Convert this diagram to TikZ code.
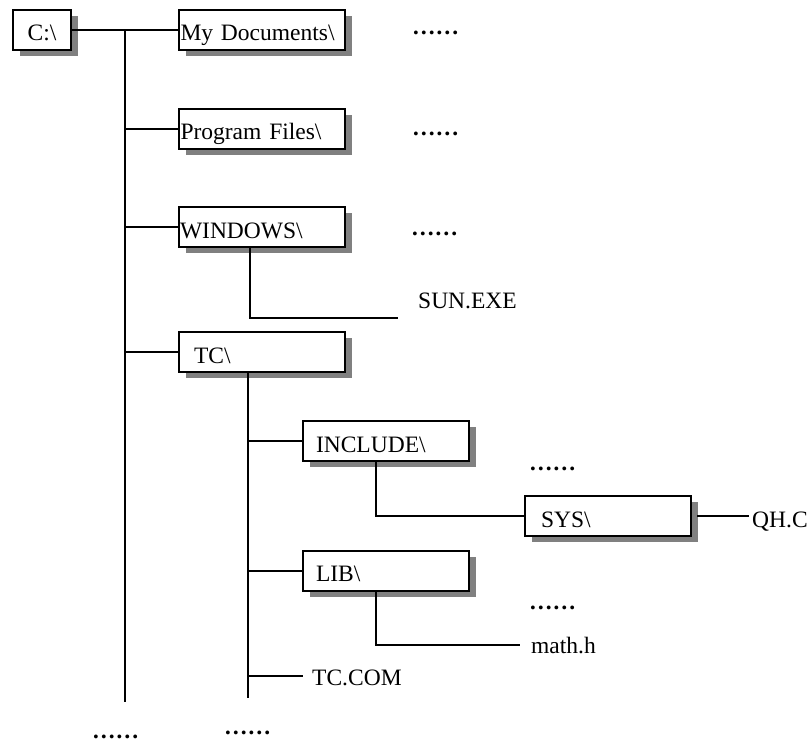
\documentclass[tikz,border=0pt]{standalone}
\usepackage{fontspec}
\setmainfont{Liberation Serif}
\usetikzlibrary{shadows}
\begin{document}
\begin{tikzpicture}[x=1pt,y=-1pt,
  every node/.style={font=\fontsize{23.5}{28}\selectfont},
  dirbox/.style 2 args={draw=black, line width=2pt, fill=white, inner ysep=0pt,
     inner xsep=#1, text width=#2, align=left, text height=24pt, text depth=2pt,
     minimum height=40pt,
     drop shadow={shadow xshift=7pt, shadow yshift=-6pt, fill=gray, opacity=1}},
  conn/.style={line width=2pt},
  plain/.style={inner sep=0pt, anchor=base west},
  dots/.style={inner sep=0pt, anchor=base west, font=\fontsize{23.5}{28}\selectfont\bfseries}]
\useasboundingbox (0,0) rectangle (812,742);

% boxes
\node[dirbox={4pt}{50pt}, align=center] (c) at (42,29.5) {C:\textbackslash};
\node[dirbox={1.5pt}{163pt}] (mydoc) at (262,29.5) {My Documents\textbackslash};
\node[dirbox={1.5pt}{163pt}] (prog) at (262,128.5) {Program Files\textbackslash};
\node[dirbox={1pt}{164pt}] (win) at (262,227) {WINDOWS\textbackslash};
\node[dirbox={15pt}{136pt}] (tc) at (262,352) {TC\textbackslash};
\node[dirbox={13pt}{140pt}] (inc) at (386,441) {INCLUDE\textbackslash};
\node[dirbox={16pt}{134pt}] (sys) at (608,516) {SYS\textbackslash};
\node[dirbox={13pt}{140pt}] (lib) at (386,570.5) {LIB\textbackslash};

% plain file names
\node[plain] (sun) at (418,308) {SUN.EXE};
\node[plain] (qh) at (752,527) {QH.C};
\node[plain] (math) at (531,653) {math.h};
\node[plain] (tccom) at (312,685) {TC.COM};

% dots
\node[dots] (d1) at (412,34) {……};
\node[dots] (d2) at (412,135) {……};
\node[dots] (d3) at (411,235) {……};
\node[dots] (d4) at (529,470) {……};
\node[dots] (d5) at (529,609) {……};
\node[dots] (d6) at (92,738.5) {……};
\node[dots] (d7) at (224,734) {……};

% trunk coordinates
\coordinate (trunktop) at (125,29.5);
\coordinate (trunkbot) at (125,702);
\coordinate (subbot) at (248,698);

% connectors
\draw[conn] (c.east) -- (mydoc.west);
\draw[conn] (trunktop) -- (trunkbot);
\draw[conn] (trunktop |- prog.west) -- (prog.west);
\draw[conn] (trunktop |- win.west) -- (win.west);
\draw[conn] (trunktop |- tc.west) -- (tc.west);
\draw[conn] ([xshift=-12pt]win.south) |- ([xshift=-20pt,yshift=-10pt]sun.base west);
\draw[conn] ([xshift=-14pt]tc.south) -- (subbot);
\draw[conn] (subbot |- inc.west) -- (inc.west);
\draw[conn] (subbot |- lib.west) -- (lib.west);
\draw[conn] (subbot |- tccom.base west) ++(0,-9) -- ([xshift=-9pt,yshift=9pt]tccom.base west);
\draw[conn] ([xshift=-10pt]inc.south) |- (sys.west);
\draw[conn] ([xshift=-10pt]lib.south) |- ([xshift=-11pt,yshift=8pt]math.base west);
\draw[conn] ([xshift=5pt]sys.east) -- ([xshift=-3pt]sys.east -| qh.west);
\end{tikzpicture}
\end{document}
